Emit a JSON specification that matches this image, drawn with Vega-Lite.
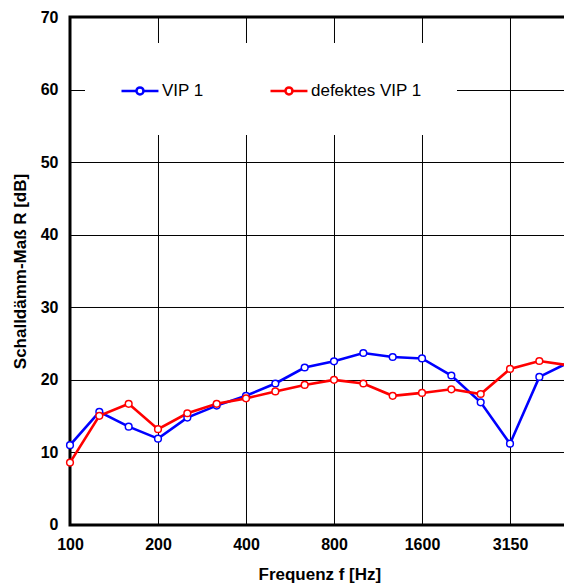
{
  "$schema": "https://vega.github.io/schema/vega-lite/v6.json",
  "width": 498.7,
  "height": 508,
  "autosize": {"type": "none"},
  "padding": {"left": 70, "top": 17, "right": 0, "bottom": 60},
  "background": "white",
  "config": {
    "view": {"stroke": "black", "strokeWidth": 3},
    "font": "Liberation Sans"
  },
  "data": {
    "values": [
      {"f": "100", "series": "VIP 1", "R": 11.0},
      {"f": "125", "series": "VIP 1", "R": 15.6},
      {"f": "160", "series": "VIP 1", "R": 13.55},
      {"f": "200", "series": "VIP 1", "R": 11.9},
      {"f": "250", "series": "VIP 1", "R": 14.8},
      {"f": "315", "series": "VIP 1", "R": 16.45},
      {"f": "400", "series": "VIP 1", "R": 17.8},
      {"f": "500", "series": "VIP 1", "R": 19.5},
      {"f": "630", "series": "VIP 1", "R": 21.7},
      {"f": "800", "series": "VIP 1", "R": 22.55},
      {"f": "1000", "series": "VIP 1", "R": 23.7},
      {"f": "1250", "series": "VIP 1", "R": 23.15},
      {"f": "1600", "series": "VIP 1", "R": 22.95},
      {"f": "2000", "series": "VIP 1", "R": 20.6},
      {"f": "2500", "series": "VIP 1", "R": 16.9},
      {"f": "3150", "series": "VIP 1", "R": 11.2},
      {"f": "4000", "series": "VIP 1", "R": 20.4},
      {"f": "5000", "series": "VIP 1", "R": 22.4},
      {"f": "100", "series": "defektes VIP 1", "R": 8.6},
      {"f": "125", "series": "defektes VIP 1", "R": 15.05},
      {"f": "160", "series": "defektes VIP 1", "R": 16.7},
      {"f": "200", "series": "defektes VIP 1", "R": 13.2},
      {"f": "250", "series": "defektes VIP 1", "R": 15.4},
      {"f": "315", "series": "defektes VIP 1", "R": 16.7},
      {"f": "400", "series": "defektes VIP 1", "R": 17.45},
      {"f": "500", "series": "defektes VIP 1", "R": 18.4},
      {"f": "630", "series": "defektes VIP 1", "R": 19.3},
      {"f": "800", "series": "defektes VIP 1", "R": 20.0},
      {"f": "1000", "series": "defektes VIP 1", "R": 19.5},
      {"f": "1250", "series": "defektes VIP 1", "R": 17.8},
      {"f": "1600", "series": "defektes VIP 1", "R": 18.2},
      {"f": "2000", "series": "defektes VIP 1", "R": 18.7},
      {"f": "2500", "series": "defektes VIP 1", "R": 18.05},
      {"f": "3150", "series": "defektes VIP 1", "R": 21.5},
      {"f": "4000", "series": "defektes VIP 1", "R": 22.6},
      {"f": "5000", "series": "defektes VIP 1", "R": 22.0}
    ]
  },
  "encoding": {
    "x": {
      "field": "f",
      "type": "ordinal",
      "scale": {
        "type": "point",
        "padding": 0,
        "domain": ["100","125","160","200","250","315","400","500","630","800","1000","1250","1600","2000","2500","3150","4000","5000"]
      },
      "axis": {
        "values": ["100","200","400","800","1600","3150"],
        "title": "Frequenz f [Hz]",
        "labelAngle": 0,
        "labelFont": "Liberation Sans",
        "labelFontSize": 16,
        "labelFontWeight": "bold",
        "labelColor": "black",
        "labelPadding": 12,
        "ticks": false,
        "domain": false,
        "grid": true,
        "gridColor": "black",
        "gridWidth": 1,
        "gridOpacity": 1,
        "titleFont": "Liberation Sans",
        "titleFontSize": 17,
        "titleFontWeight": "bold",
        "titleColor": "black",
        "titlePadding": 14
      }
    },
    "y": {
      "field": "R",
      "type": "quantitative",
      "scale": {"domain": [0, 70], "nice": false, "zero": true},
      "axis": {
        "values": [0,10,20,30,40,50,60,70],
        "title": "Schalldämm-Maß R [dB]",
        "labelFont": "Liberation Sans",
        "labelFontSize": 16,
        "labelFontWeight": "bold",
        "labelColor": "black",
        "labelPadding": 12,
        "ticks": false,
        "domain": false,
        "grid": true,
        "gridColor": "black",
        "gridWidth": 1,
        "gridOpacity": 1,
        "titleFont": "Liberation Sans",
        "titleFontSize": 17,
        "titleFontWeight": "bold",
        "titleColor": "black",
        "titlePadding": 11
      }
    },
    "color": {
      "field": "series",
      "type": "nominal",
      "scale": {"domain": ["VIP 1", "defektes VIP 1"], "range": ["#0000FF", "#FF0000"]},
      "legend": {
        "title": null,
        "orient": "none",
        "legendX": 15,
        "legendY": 26,
        "direction": "horizontal",
        "fillColor": "white",
        "strokeColor": null,
        "padding": 35,
        "columnPadding": 61,
        "labelFont": "Liberation Sans",
        "labelFontSize": 17,
        "labelColor": "black",
        "labelOffset": 17,
        "symbolType": "M-1,0H0.36A0.32,0.32 0 1,1 1,0A0.32,0.32 0 1,1 0.36,0M1,0H2.36",
        "symbolSize": 484,
        "symbolStrokeWidth": 2.5,
        "symbolFillColor": "white"
      }
    }
  },
  "layer": [
    {"mark": {"type": "line", "strokeWidth": 2.6}},
    {"mark": {"type": "point", "shape": "circle", "filled": false, "fill": "white", "fillOpacity": 1, "opacity": 1, "size": 45, "strokeWidth": 1.5}}
  ]
}
